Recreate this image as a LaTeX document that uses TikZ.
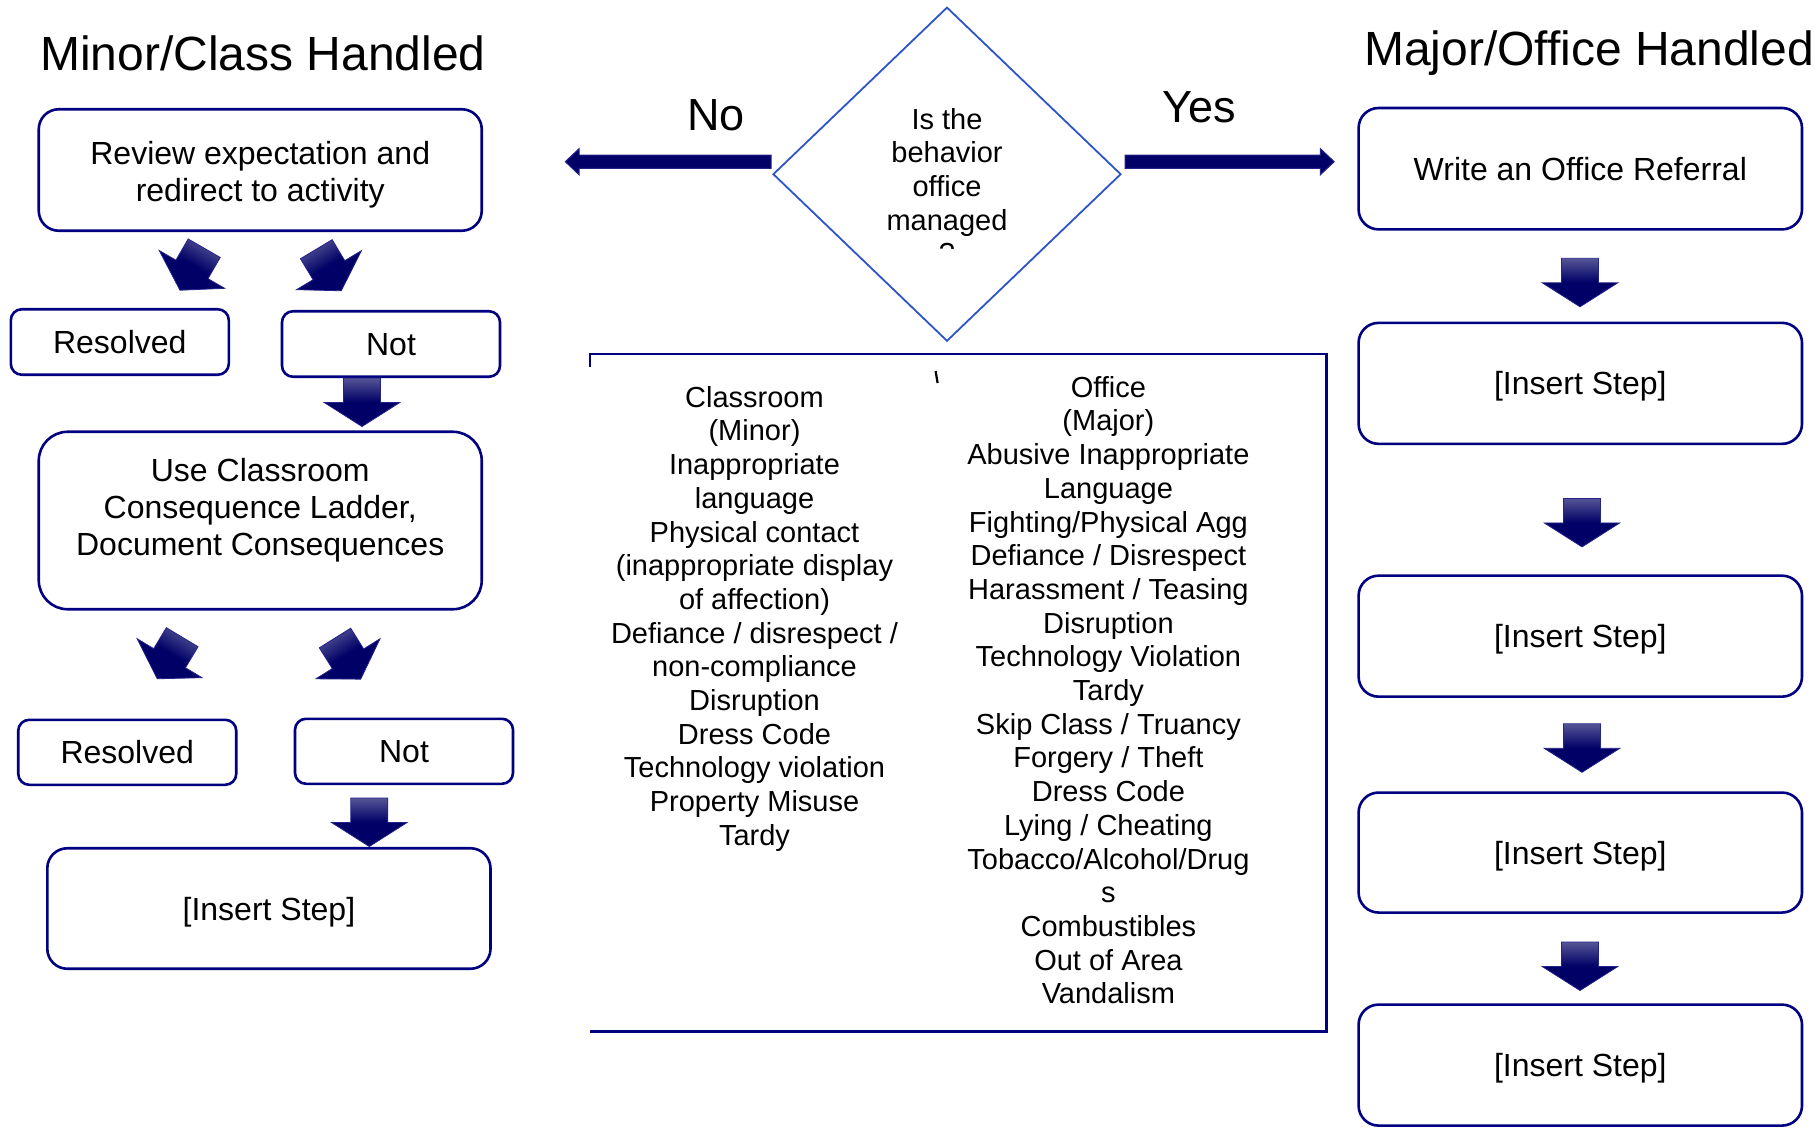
\documentclass[tikz,border=0pt]{standalone}
\usepackage{fontspec}
\setmainfont{Liberation Sans}
\usetikzlibrary{shapes.geometric,calc}
\definecolor{navyline}{RGB}{0,0,128}
\definecolor{diablue}{RGB}{46,84,200}
\definecolor{arrowdark}{RGB}{0,0,102}
\definecolor{arrowlight}{RGB}{85,85,150}
\definecolor{arrowedge}{RGB}{35,35,140}
\begin{document}
\begin{tikzpicture}[x=1pt,y=-1pt,
  stepbox/.style={rectangle, draw=navyline, line width=2.6pt, rounded corners=#1, inner sep=0pt, align=center, text depth=0pt, font=\fontsize{32}{37}\selectfont},
  stepbox/.default=20pt,
  boxtxt/.style={align=center, inner sep=0pt, font=\fontsize{32}{37}\selectfont},
  listtxt/.style={align=center, inner sep=0pt, font=\fontsize{29}{33.7}\selectfont},
  titletxt/.style={anchor=base, inner sep=0pt, font=\fontsize{48}{55}\selectfont},
  yntxt/.style={anchor=base, inner sep=0pt, font=\fontsize{45}{52}\selectfont},
  harrow/.style={fill=arrowdark, draw=arrowedge, line width=1pt},
  arrowshade/.style={top color=arrowlight, bottom color=arrowdark, middle color=arrowdark, draw=arrowedge, line width=0.8pt},
  blockarrow/.pic={\shade[arrowshade, shading angle=#1] (-18.5,0) -- (18.5,0) -- (18.5,24.5) -- (37.8,24.5) -- (0,48.5) -- (-37.8,24.5) -- (-18.5,24.5) -- cycle;}
]
\fill[white] (0,0) rectangle (1815,1130);
\useasboundingbox (0,0) rectangle (1815,1130);

% titles
\node[titletxt] (tminor) at (263,70) {Minor/Class Handled};
\node[titletxt] (tmajor) at (1589,65) {Major/Office Handled};

% left column
\node[stepbox, minimum width=443pt, minimum height=121.5pt] (rev) at (260.25,170) {};
\node[boxtxt, anchor=north] (revtxt) at (260.25,138.3) {\strut Review expectation and\\redirect to activity};
\node[stepbox=11pt, minimum width=218pt, minimum height=65.5pt] (res1) at (119.8,342) {Resolved};
\node[stepbox=11pt, minimum width=218pt, minimum height=65.5pt] (not1) at (391,344) {Not};
\node[stepbox=29pt, minimum width=443pt, minimum height=177.5pt] (use) at (260.25,520.5) {};
\node[boxtxt, anchor=north] (usetxt) at (260.25,455.1) {\strut Use Classroom\\Consequence Ladder,\\Document Consequences};
\node[stepbox=11pt, minimum width=218pt, minimum height=65pt] (res2) at (127.25,752.3) {Resolved};
\node[stepbox=11pt, minimum width=218pt, minimum height=65pt] (not2) at (404,751.3) {Not};
\node[stepbox, minimum width=443.2pt, minimum height=120.5pt] (insL) at (268.9,908.5) {[Insert Step]};

% right column
\node[stepbox, minimum width=443.4pt, minimum height=121.4pt] (wr) at (1580.3,168.7) {Write an Office Referral};
\node[stepbox, minimum width=443.4pt, minimum height=121pt] (s2) at (1580.3,383.35) {[Insert Step]};
\node[stepbox, minimum width=443.4pt, minimum height=121pt] (s3) at (1580.3,636.15) {[Insert Step]};
\node[stepbox, minimum width=443.4pt, minimum height=120pt] (s4) at (1580.3,852.55) {[Insert Step]};
\node[stepbox, minimum width=443.4pt, minimum height=121pt] (s5) at (1580.3,1065.1) {[Insert Step]};

% decision diamond
\node[diamond, draw=diablue, line width=1.8pt, minimum width=348pt, minimum height=334pt, inner sep=0pt] (dia) at (947,174.2) {};
\begin{scope}
\clip (760,0) rectangle (1130,248);
\node[listtxt, anchor=north] (diatxt) at (947,105.4) {\strut Is the\\behavior\\office\\managed\\?};
\end{scope}

% yes / no
\node[yntxt] (no) at (716,130) {No};
\node[yntxt] (yes) at (1199,122.7) {Yes};
\coordinate (noS) at (771,161.7);
\coordinate (noT) at (565.3,161.7);
\coordinate (yesS) at (1125,161.7);
\coordinate (yesT) at (1334.2,161.7);
\path[harrow] ($(noS)+(0,-6.6)$) -- ($(noT)+(13.7,-6.6)$) -- ($(noT)+(13.7,-13)$) -- (noT) -- ($(noT)+(13.7,13)$) -- ($(noT)+(13.7,6.6)$) -- ($(noS)+(0,6.6)$) -- cycle;
\path[harrow] ($(yesS)+(0,-6.6)$) -- ($(yesT)+(-13.8,-6.6)$) -- ($(yesT)+(-13.8,-13)$) -- (yesT) -- ($(yesT)+(-13.8,13)$) -- ($(yesT)+(-13.8,6.6)$) -- ($(yesS)+(0,6.6)$) -- cycle;

% list box
\draw[navyline, line width=2.4pt] (589.8,367) -- (589.8,354) -- (1326.5,354) -- (1326.5,1031.5) -- (589.8,1031.5);
\draw[line width=2.2pt, black] (935.6,371) -- (937.6,383);
\node[listtxt, anchor=north] (minorlist) at (754.5,383.4) {\strut Classroom\\(Minor)\\Inappropriate\\language\\Physical contact\\(inappropriate display\\of affection)\\Defiance / disrespect /\\non-compliance\\Disruption\\Dress Code\\Technology violation\\Property Misuse\\Tardy};
\node[listtxt, anchor=north] (majorlist) at (1108.4,373.4) {\strut Office\\(Major)\\Abusive Inappropriate\\Language\\Fighting/Physical Agg\\Defiance / Disrespect\\Harassment / Teasing\\Disruption\\Technology Violation\\Tardy\\Skip Class / Truancy\\Forgery / Theft\\Dress Code\\Lying / Cheating\\Tobacco/Alcohol/Drug\\s\\Combustibles\\Out of Area\\Vandalism};

% block arrows
\pic at (362,378) {blockarrow=0};
\pic at (369.3,798) {blockarrow=0};
\pic at (1580,258.3) {blockarrow=0};
\pic at (1582,498.4) {blockarrow=0};
\pic at (1582,723.8) {blockarrow=0};
\pic at (1580,942) {blockarrow=0};
\pic[rotate=-30] at (204.2,248.2) {blockarrow=-30};
\pic[rotate=31] at (316.3,249.2) {blockarrow=31};
\pic[rotate=-31] at (182.2,637.2) {blockarrow=-31};
\pic[rotate=32] at (335,638) {blockarrow=32};
\end{tikzpicture}
\end{document}
